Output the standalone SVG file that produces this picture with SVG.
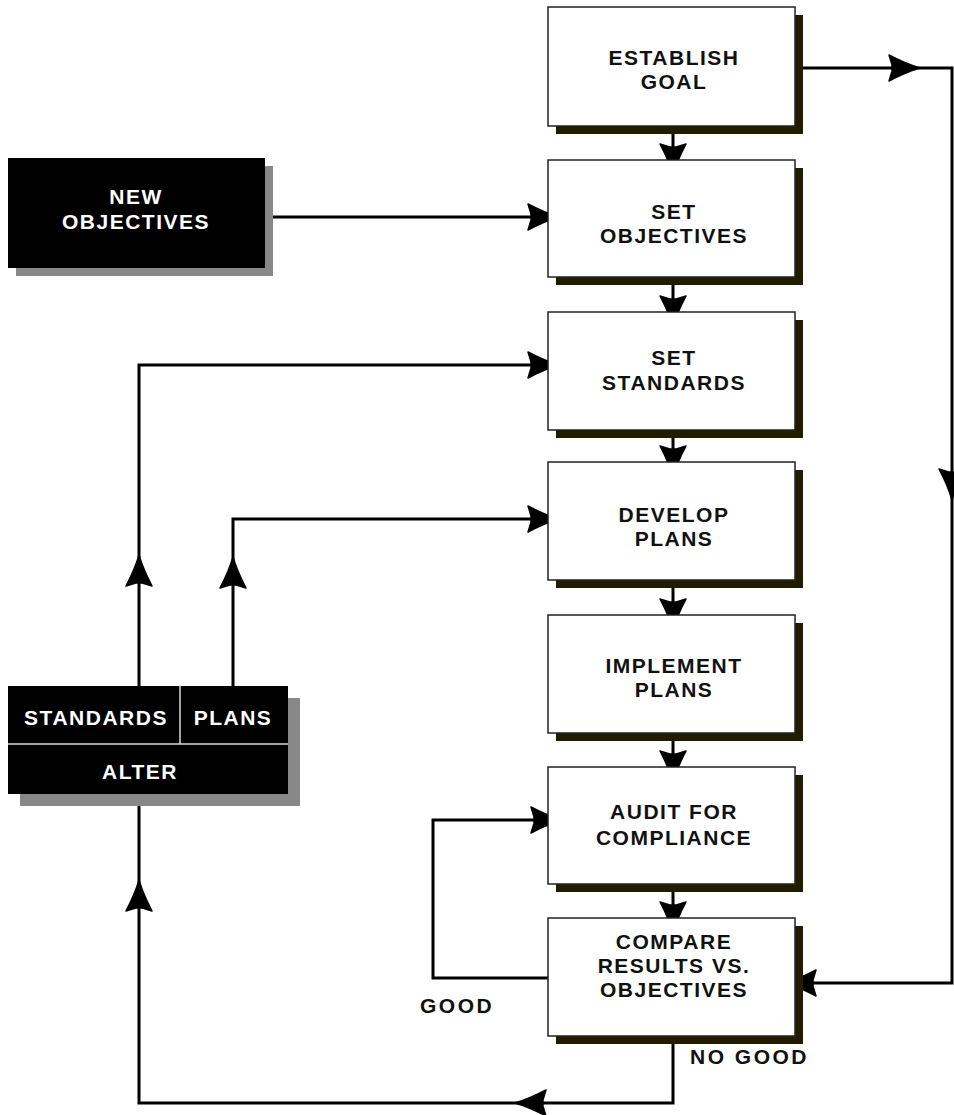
<svg xmlns="http://www.w3.org/2000/svg" xmlns:xlink="http://www.w3.org/1999/xlink" width="954" height="1115" viewBox="0 0 954 1115">
<style>
.box{fill:#fff;stroke:#222;stroke-width:1.5}
.sh{fill:#1f1c00}
.bbox{fill:#000}
.gsh{fill:#888}
.t{font-family:"Liberation Sans",Arial,sans-serif;font-weight:bold;font-size:21px;letter-spacing:1.5px;text-anchor:middle;fill:#111}
.w{fill:#fff}
.lbl{font-family:"Liberation Sans",Arial,sans-serif;font-weight:bold;font-size:21px;letter-spacing:2.5px;fill:#111}
.c{fill:none;stroke:#000;stroke-width:3}
.div{stroke:#d8d8d8;stroke-width:1.5}
</style>
<defs>
<path id="ah" d="M0,0 Q-14,-4 -31,-13 L-27,0 L-31,13 Q-14,4 0,0 Z M0,0 L-28,-9 L-28,9 Z" fill="#000" stroke="#000" stroke-width="1.5" stroke-linejoin="round"/>
</defs>
<rect width="954" height="1115" fill="#fff"/>

<g id="connectors">
<path class="c" d="M673,126 V170"/>
<path class="c" d="M673,277 V322"/>
<path class="c" d="M673,430 V472"/>
<path class="c" d="M673,580 V625"/>
<path class="c" d="M673,733 V777"/>
<path class="c" d="M673,884 V928"/>
<path class="c" d="M265,217 H555"/>
<path class="c" d="M139,686 V365 H555"/>
<path class="c" d="M233,686 V519 H555"/>
<path class="c" d="M548,978 H433 V820 H558"/>
<path class="c" d="M795,68 H952 V983 H790"/>
<path class="c" d="M673,1036 V1103 H139 V794"/>
<use xlink:href="#ah" transform="translate(673,175) rotate(90)"/>
<use xlink:href="#ah" transform="translate(673,327) rotate(90)"/>
<use xlink:href="#ah" transform="translate(673,477) rotate(90)"/>
<use xlink:href="#ah" transform="translate(673,630) rotate(90)"/>
<use xlink:href="#ah" transform="translate(673,782) rotate(90)"/>
<use xlink:href="#ah" transform="translate(673,933) rotate(90)"/>
<use xlink:href="#ah" transform="translate(559,217)"/>
<use xlink:href="#ah" transform="translate(559,365)"/>
<use xlink:href="#ah" transform="translate(559,519)"/>
<use xlink:href="#ah" transform="translate(562,820)"/>
<use xlink:href="#ah" transform="translate(920,68)"/>
<use xlink:href="#ah" transform="translate(952,500) rotate(90)"/>
<use xlink:href="#ah" transform="translate(785,983) rotate(180)"/>
<use xlink:href="#ah" transform="translate(515,1103) rotate(180)"/>
<use xlink:href="#ah" transform="translate(139,880) rotate(-90)"/>
<use xlink:href="#ah" transform="translate(139,555) rotate(-90)"/>
<use xlink:href="#ah" transform="translate(233,557) rotate(-90)"/>
</g>

<g id="establish-goal">
<rect class="sh" x="556" y="15" width="247" height="119"/>
<rect class="box" x="548" y="7" width="247" height="119"/>
<text class="t" x="674" y="65">ESTABLISH</text>
<text class="t" x="674" y="89">GOAL</text>
</g>

<g id="set-objectives">
<rect class="sh" x="556" y="168" width="247" height="117"/>
<rect class="box" x="548" y="160" width="247" height="117"/>
<text class="t" x="674" y="219">SET</text>
<text class="t" x="674" y="243">OBJECTIVES</text>
</g>

<g id="set-standards">
<rect class="sh" x="556" y="320" width="247" height="118"/>
<rect class="box" x="548" y="312" width="247" height="118"/>
<text class="t" x="674" y="365">SET</text>
<text class="t" x="674" y="390">STANDARDS</text>
</g>

<g id="develop-plans">
<rect class="sh" x="556" y="470" width="247" height="118"/>
<rect class="box" x="548" y="462" width="247" height="118"/>
<text class="t" x="674" y="522">DEVELOP</text>
<text class="t" x="674" y="546">PLANS</text>
</g>

<g id="implement-plans">
<rect class="sh" x="556" y="623" width="247" height="118"/>
<rect class="box" x="548" y="615" width="247" height="118"/>
<text class="t" x="674" y="673">IMPLEMENT</text>
<text class="t" x="674" y="697">PLANS</text>
</g>

<g id="audit">
<rect class="sh" x="556" y="775" width="247" height="117"/>
<rect class="box" x="548" y="767" width="247" height="117"/>
<text class="t" x="674" y="819">AUDIT FOR</text>
<text class="t" x="674" y="845">COMPLIANCE</text>
</g>

<g id="compare">
<rect class="sh" x="556" y="926" width="247" height="118"/>
<rect class="box" x="548" y="918" width="247" height="118"/>
<text class="t" x="674" y="949">COMPARE</text>
<text class="t" x="674" y="973">RESULTS VS.</text>
<text class="t" x="674" y="997">OBJECTIVES</text>
</g>

<g id="new-objectives">
<rect class="gsh" x="16" y="166" width="257" height="110"/>
<rect class="bbox" x="8" y="158" width="257" height="110"/>
<text class="t w" x="136" y="204">NEW</text>
<text class="t w" x="136" y="229">OBJECTIVES</text>
</g>

<g id="alter">
<rect class="gsh" x="20" y="698" width="280" height="108"/>
<rect class="bbox" x="8" y="686" width="280" height="108"/>
<line class="div" x1="8" y1="744" x2="288" y2="744"/>
<line class="div" x1="180" y1="686" x2="180" y2="744"/>
<text class="t w" x="96" y="725">STANDARDS</text>
<text class="t w" x="233" y="725">PLANS</text>
<text class="t w" x="140" y="779">ALTER</text>
</g>

<g id="labels">
<text class="lbl" x="420" y="1013">GOOD</text>
<text class="lbl" x="690" y="1064">NO GOOD</text>
</g>
</svg>
